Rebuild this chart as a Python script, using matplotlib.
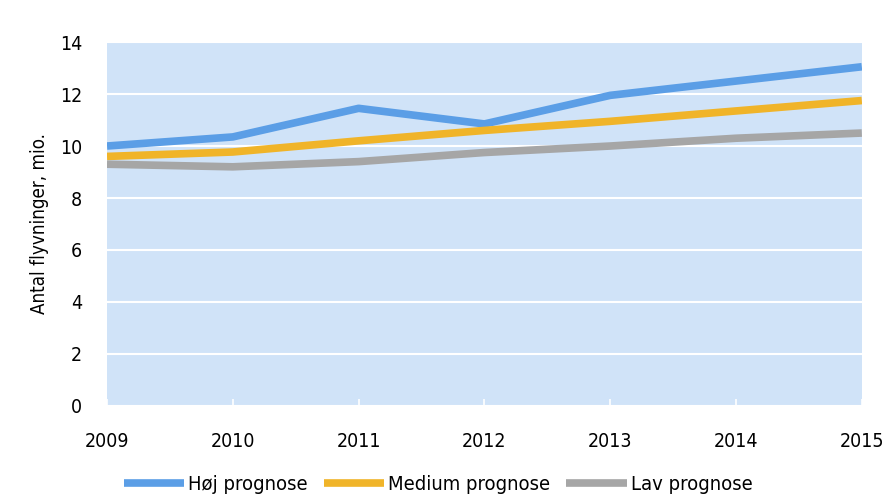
import matplotlib.pyplot as plt

years = [2009, 2010, 2011, 2012, 2013, 2014, 2015]
hoj = [10.0, 10.35, 11.45, 10.85, 11.95, 12.5, 13.05]
medium = [9.6, 9.77, 10.2, 10.6, 10.95, 11.35, 11.75]
lav = [9.3, 9.2, 9.4, 9.75, 10.0, 10.3, 10.5]
labels = ['Høj prognose', 'Medium prognose', 'Lav prognose']
colors = ['#5b9ee6', '#f0b429', '#a6a6a6']

plt.rcParams['font.family'] = ['DejaVu Sans']
plt.rcParams['font.stretch'] = 'condensed'

fig = plt.figure(figsize=(8.94, 4.95), dpi=100)
ax = fig.add_axes([0.1197, 0.18, 0.8443, 0.735])
ax.set_facecolor('#d0e3f8')

for vals, lab, col in zip([hoj, medium, lav], labels, colors):
    ax.plot(years, vals, color=col, lw=5.5, label=lab, solid_capstyle='butt')

ax.set_xlim(2009, 2015)
ax.set_ylim(0, 14)
ax.set_yticks(range(0, 15, 2))
ax.set_xticks(years)
ax.grid(axis='y', color='white', lw=1.5)
ax.set_axisbelow(True)
for s in ax.spines.values():
    s.set_visible(False)
ax.tick_params(axis='y', length=0, pad=18, labelsize=14)
ax.tick_params(axis='x', direction='in', color='white', length=5, width=1.2, pad=19, labelsize=14)
ax.set_ylabel('Antal flyvninger, mio.', fontsize=13.5, labelpad=8)

fig.legend(loc='lower center', bbox_to_anchor=(0.49, -0.035), ncol=3, frameon=False,
           handlelength=3.0, handletextpad=0.2, columnspacing=0.8, fontsize=14.5)

plt.savefig('out.png', dpi=100)
